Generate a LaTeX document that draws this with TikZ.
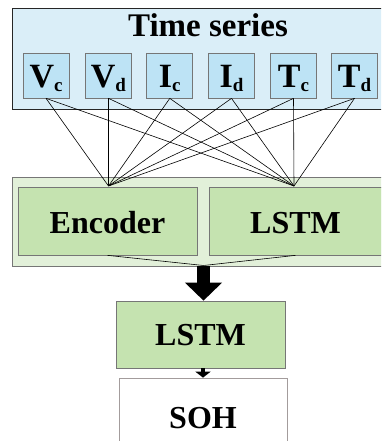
\documentclass[tikz,border=0pt]{standalone}
\usepackage{fontspec}
\setmainfont{Liberation Serif}
\usetikzlibrary{arrows.meta}
\definecolor{bgblue}{HTML}{DAEEF8}
\definecolor{boxblue}{HTML}{BDE3F5}
\definecolor{bggreen}{HTML}{E2F0D9}
\definecolor{boxgreen}{HTML}{C5E3B0}
\definecolor{edgegray}{HTML}{767676}
\definecolor{sohgray}{HTML}{A39C9C}
\newcommand{\sigl}[2]{\textbf{#1}\raisebox{-4pt}{\fontsize{19}{19}\selectfont\bfseries #2}}
\begin{document}
\begin{tikzpicture}[x=1pt,y=-1pt,
  bigfont/.style={font=\fontsize{32}{32}\bfseries\selectfont},
  sigbox/.style={draw=edgegray, fill=boxblue, line width=0.7pt, minimum width=46pt, minimum height=45pt,
     inner sep=0pt, font=\fontsize{34}{34}\selectfont, text height=26pt, text depth=2pt},
  greenbox/.style={draw=edgegray, fill=boxgreen, line width=0.7pt, inner sep=0pt},
  wire/.style={draw=black, line width=0.6pt}]
\useasboundingbox (0,0) rectangle (381,441);
\clip (0,0) rectangle (381,441);
% time series panel
\node[draw=black!85, fill=bgblue, line width=0.9pt, minimum width=378pt, minimum height=101pt,
      inner sep=0pt, anchor=north west] (ts) at (12,8) {};
\node[font=\fontsize{33}{33}\bfseries\selectfont, anchor=base, inner sep=0pt] (title) at (208,37) {Time series};
\node[sigbox] (s1) at (46,75.5) {\sigl{V}{c}};
\node[sigbox] (s2) at (108.5,75.5) {\sigl{V}{d}};
\node[sigbox] (s3) at (169.8,75.5) {\sigl{I}{c}};
\node[sigbox] (s4) at (231.5,75.5) {\sigl{I}{d}};
\node[sigbox] (s5) at (293.5,75.5) {\sigl{T}{c}};
\node[sigbox] (s6) at (354.5,75.5) {\sigl{T}{d}};
% model panel
\node[draw=edgegray, fill=bggreen, line width=0.8pt, minimum width=378pt, minimum height=89pt,
      inner sep=0pt, anchor=north west] (mp) at (12,177) {};
\node[greenbox, minimum width=179pt, minimum height=68pt, bigfont, text height=26pt, text depth=2pt] (enc) at (107.5,221) {Encoder};
\node[greenbox, minimum width=173pt, minimum height=68pt, bigfont, text height=26pt, text depth=2pt] (lstma) at (295.5,221) {LSTM};
\coordinate (cl) at (108.5,186);
\coordinate (cr) at (294,186);
\foreach \i in {1,...,6}{
  \draw[wire] (s\i.south) -- (cl);
  \draw[wire] (s\i.south) -- (cr);
}
\coordinate (m) at (203.5,265.5);
\draw[wire] (enc.south) -- (m);
\draw[wire] (lstma.south) -- (m);
% lower LSTM and SOH
\node[greenbox, minimum width=169pt, minimum height=67pt, bigfont, text height=23pt, text depth=2pt] (lstmb) at (200.5,334.5) {LSTM};
\node[draw=sohgray, fill=white, line width=0.7pt, inner sep=0pt, minimum width=168pt, minimum height=72pt,
      bigfont, text height=30pt, text depth=2pt] (soh) at (203,414) {SOH};
\draw[line width=13pt, -{Triangle[width=36pt 0 0, length=18pt 0 0]}] (m) -- (m |- lstmb.north);
\draw[line width=4pt, -{Triangle[width=15pt 0 0, length=6pt 0 0]}] (lstmb.south -| soh.north) -- (soh.north);
\end{tikzpicture}
\end{document}
